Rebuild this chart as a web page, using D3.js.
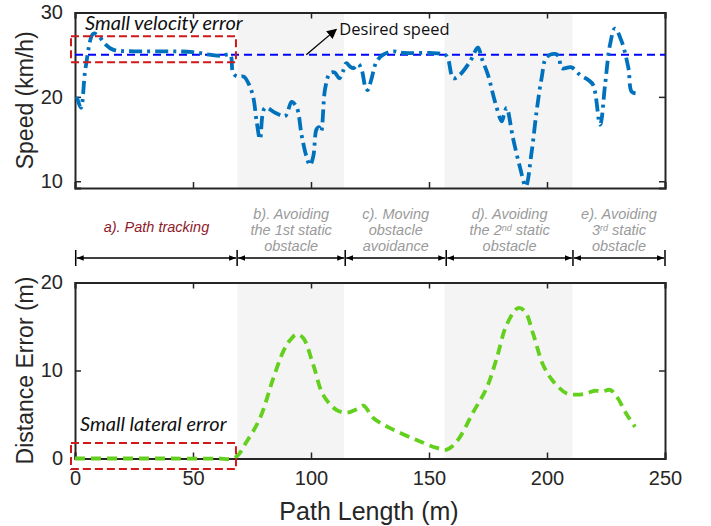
<!DOCTYPE html>
<html>
<head>
<meta charset="utf-8">
<script src="https://cdn.jsdelivr.net/npm/d3@7"></script>
<style>
  body { margin: 0; background: #fff; }
  text { font-family: 'Liberation Sans', Arial, sans-serif; }
  .note { font-family: Lato, 'Open Sans', sans-serif; font-style: italic; }
  .phase { font-family: 'Liberation Sans', Arial, sans-serif; font-style: italic; }
</style>
</head>
<body>
<div class="container"></div>
<script>
const speedX = [0.8, 2.5, 4.5, 7.8, 10, 13, 16, 25, 40, 50, 57, 62, 65.7, 67, 69, 71.5, 73.5, 75.5, 77, 78.4, 80.5, 85, 89, 91.8, 94, 96, 98, 99.6, 101, 102.4, 103.5, 104.3, 106, 108, 110, 112, 113.5, 115, 116.5, 118, 120, 121.5, 123, 124, 125.5, 127.8, 130.6, 134.8, 139, 150, 156.8, 158, 160.3, 163, 167.4, 170.8, 172.3, 175, 178, 180.8, 181.8, 182.9, 185.6, 188.6, 191, 193.5, 195.6, 197.7, 199.8, 203.4, 205, 206.2, 210.4, 214, 217.5, 219.6, 222.5, 224.6, 226.7, 228.8, 231.6, 234.5, 235.9, 238];
const speedY = [20.0, 18.7, 23.5, 27.5, 27.2, 26.2, 25.6, 25.4, 25.4, 25.3, 25.0, 24.85, 25.0, 22.8, 22.4, 22.4, 21.6, 20.0, 17.0, 15.0, 18.7, 18.1, 17.7, 19.4, 18.7, 15.5, 13.0, 11.9, 13.0, 16.2, 16.4, 15.9, 21.0, 22.8, 22.9, 22.2, 23.0, 24.0, 23.6, 23.4, 23.9, 23.2, 21.2, 20.8, 22.0, 24.2, 25.0, 25.4, 25.2, 25.2, 25.0, 24.6, 22.2, 22.6, 24.2, 25.85, 24.6, 22.6, 19.4, 17.1, 17.9, 18.7, 15.1, 11.6, 9.4, 13.5, 18.3, 22.2, 24.7, 25.1, 24.8, 23.4, 23.5, 22.6, 22.0, 21.4, 16.7, 21.4, 26.2, 28.1, 26.6, 23.4, 20.6, 20.4];

const errorX = [0, 20, 40, 60, 67.8, 72.7, 78.4, 84, 88.3, 91, 93.9, 96.7, 101, 105.2, 110.9, 115.1, 119.4, 122.2, 126.4, 133.5, 144.8, 153.3, 157.5, 161.7, 168.8, 174.4, 178.7, 182.9, 187.8, 190.7, 194.2, 198.4, 202.7, 208.3, 212.6, 216.8, 220.3, 223.2, 226.7, 229.5, 233.8, 237.3];
const errorY = [0, 0, 0, 0, 0.1, 1.9, 4.6, 9.1, 12.2, 13.4, 14.1, 13.7, 10.6, 7.2, 5.5, 5.2, 5.6, 6.0, 4.6, 3.45, 2.1, 1.2, 1.0, 1.9, 5.3, 8.0, 11.4, 15.2, 17.1, 16.7, 14.1, 10.6, 8.75, 7.4, 7.25, 7.4, 7.7, 7.6, 7.8, 7.05, 5.0, 3.6];

const desiredSpeed = 25;
const xTicks = [0, 50, 100, 150, 200, 250];
const speedTicks = [10, 20, 30];
const errorTicks = [0, 10, 20];
const shadedStart = [68.8, 156.6];
const shadedEnd = [114, 210.8];
const phaseBounds = [0.3, 68.7, 114.5, 157.3, 211, 250];
const phaseLabels = [
  ['a). Path tracking'],
  ['b). Avoiding', 'the 1st static', 'obstacle'],
  ['c). Moving', 'obstacle', 'avoidance'],
  ['d). Avoiding', ['the 2', 'nd', ' static'], 'obstacle'],
  ['e). Avoiding', ['3', 'rd', ' static'], 'obstacle']
];
const speedBox = [-1.7, 68.2, 24.1, 27.2];
const errorBox = [-1.7, 68.2, -1.2, 1.75];

const width = 711;
const height = 526;

const svg = d3.select('.container').append('svg').attr('width', width).attr('height', height);

const xScale = d3.scaleLinear().domain([0, 250]).range([75, 665]);
const ySpeed = d3.scaleLinear().domain([9.2, 30]).range([188, 12.5]);
const yError = d3.scaleLinear().domain([0, 20]).range([458.5, 282.5]);

const drawPanel = (yScale, ticks, showX) => {
  const [y0, y1] = yScale.range();
  const panel = svg.append('g');

  shadedStart.forEach((s, i) => {
    panel
      .append('rect')
      .attr('x', xScale(s))
      .attr('y', y1)
      .attr('width', xScale(shadedEnd[i]) - xScale(s))
      .attr('height', y0 - y1)
      .attr('fill', '#f4f4f4');
  });

  const bottomAxis = d3.axisBottom(xScale).tickValues(xTicks).tickSize(-6).tickPadding(12);
  if (!showX) bottomAxis.tickFormat('');
  const topAxis = d3.axisTop(xScale).tickValues(xTicks).tickSize(-6).tickFormat('');
  const leftAxis = d3.axisLeft(yScale).tickValues(ticks).tickSize(-6).tickPadding(12);
  const rightAxis = d3.axisRight(yScale).tickValues(ticks).tickSize(-6).tickFormat('');

  const axes = panel.append('g').attr('class', 'axes');
  axes.append('g').attr('transform', `translate(0,${y0})`).call(bottomAxis);
  axes.append('g').attr('transform', `translate(0,${y1})`).call(topAxis);
  axes.append('g').attr('transform', `translate(${xScale(0)},0)`).call(leftAxis);
  axes.append('g').attr('transform', `translate(${xScale(250)},0)`).call(rightAxis);

  axes.selectAll('.domain').attr('stroke', '#262626').attr('stroke-width', 2);
  axes.selectAll('.tick line').attr('stroke', '#262626').attr('stroke-width', 1.5);
  axes.selectAll('.tick text').attr('fill', '#262626').style('font-size', '20px');
  return panel;
};

const topPanel = drawPanel(ySpeed, speedTicks, false);
const bottomPanel = drawPanel(yError, errorTicks, true);

// desired speed reference
topPanel
  .append('line')
  .attr('x1', xScale(0))
  .attr('x2', xScale(250))
  .attr('y1', ySpeed(desiredSpeed))
  .attr('y2', ySpeed(desiredSpeed))
  .attr('stroke', '#0000ff')
  .attr('stroke-width', 2)
  .attr('stroke-dasharray', '8,5');

const speedLine = d3
  .line()
  .x((d, i) => xScale(speedX[i]))
  .y(d => ySpeed(d))
  .curve(d3.curveCatmullRom);

topPanel
  .append('path')
  .attr('d', speedLine(speedY))
  .attr('fill', 'none')
  .attr('stroke', '#0072bd')
  .attr('stroke-width', 3.8)
  .attr('stroke-dasharray', '13,5,3,5');

const errorLine = d3
  .line()
  .x((d, i) => xScale(errorX[i]))
  .y(d => yError(d))
  .curve(d3.curveCatmullRom);

bottomPanel
  .append('path')
  .attr('d', errorLine(errorY))
  .attr('fill', 'none')
  .attr('stroke', '#62d01c')
  .attr('stroke-width', 3.8)
  .attr('stroke-dasharray', '10,6');

const drawBox = (panel, yScale, box) => {
  panel
    .append('rect')
    .attr('x', xScale(box[0]))
    .attr('y', yScale(box[3]))
    .attr('width', xScale(box[1]) - xScale(box[0]))
    .attr('height', yScale(box[2]) - yScale(box[3]))
    .attr('fill', 'none')
    .attr('stroke', '#d01818')
    .attr('stroke-width', 2)
    .attr('stroke-dasharray', '8,4');
};
drawBox(topPanel, ySpeed, speedBox);
drawBox(bottomPanel, yError, errorBox);

svg
  .append('text')
  .attr('class', 'note')
  .attr('x', 85)
  .attr('y', 30)
  .style('font-size', '20px')
  .attr('fill', '#111')
  .text('Small velocity error');

svg
  .append('text')
  .attr('class', 'note')
  .attr('x', 80)
  .attr('y', 431)
  .style('font-size', '20px')
  .attr('fill', '#111')
  .text('Small lateral error');

// arrow to the desired speed line
svg
  .append('defs')
  .append('marker')
  .attr('id', 'head')
  .attr('viewBox', '0 0 10 10')
  .attr('refX', 9)
  .attr('refY', 5)
  .attr('markerWidth', 10)
  .attr('markerHeight', 10)
  .attr('markerUnits', 'userSpaceOnUse')
  .attr('orient', 'auto')
  .append('path')
  .attr('d', 'M0,0L10,5L0,10z')
  .attr('fill', '#000');

svg
  .append('line')
  .attr('x1', xScale(98))
  .attr('y1', ySpeed(desiredSpeed))
  .attr('x2', xScale(110.7))
  .attr('y2', ySpeed(28))
  .attr('stroke', '#000')
  .attr('stroke-width', 1.3)
  .attr('marker-end', 'url(#head)');

svg
  .append('text')
  .attr('x', xScale(112))
  .attr('y', 35)
  .style('font-family', "'Open Sans', sans-serif")
  .style('font-size', '16.5px')
  .attr('fill', '#111')
  .text('Desired speed');

// phase annotations between the panels
const phases = svg.append('g').attr('class', 'phases');
const arrowY = 258;

phaseBounds.forEach(b => {
  phases
    .append('line')
    .attr('x1', xScale(b))
    .attr('x2', xScale(b))
    .attr('y1', arrowY - 8)
    .attr('y2', arrowY + 8)
    .attr('stroke', '#000')
    .attr('stroke-width', 1.5);
});

phases
  .append('defs')
  .append('marker')
  .attr('id', 'tip')
  .attr('viewBox', '0 0 10 10')
  .attr('refX', 10)
  .attr('refY', 5)
  .attr('markerWidth', 7)
  .attr('markerHeight', 7)
  .attr('markerUnits', 'userSpaceOnUse')
  .attr('orient', 'auto-start-reverse')
  .append('path')
  .attr('d', 'M0,1L10,5L0,9z')
  .attr('fill', '#000');

phaseLabels.forEach((lines, i) => {
  const a = xScale(phaseBounds[i]);
  const b = xScale(phaseBounds[i + 1]);
  phases
    .append('line')
    .attr('x1', a + 1)
    .attr('x2', b - 1)
    .attr('y1', arrowY)
    .attr('y2', arrowY)
    .attr('stroke', '#000')
    .attr('stroke-width', 1.3)
    .attr('marker-start', 'url(#tip)')
    .attr('marker-end', 'url(#tip)');

  const firstY = lines.length === 1 ? 232 : 219;
  lines.forEach((line, j) => {
    const row = phases
      .append('text')
      .attr('class', 'phase')
      .attr('text-anchor', 'middle')
      .attr('fill', i === 0 ? '#8e1b2c' : '#9a9a9a')
      .style('font-size', '14.5px')
      .attr('x', (a + b) / 2)
      .attr('y', firstY + j * 16.2);
    if (Array.isArray(line)) {
      row.append('tspan').text(line[0]);
      row.append('tspan').attr('dy', -4).style('font-size', '9px').text(line[1]);
      row.append('tspan').attr('dy', 4).text(line[2]);
    } else {
      row.text(line);
    }
  });
});

svg
  .append('text')
  .text('Speed (km/h)')
  .attr('transform', `translate(33,${(ySpeed.range()[0] + ySpeed.range()[1]) / 2}) rotate(-90)`)
  .attr('text-anchor', 'middle')
  .attr('fill', '#262626')
  .style('font-size', '23px');

svg
  .append('text')
  .text('Distance Error (m)')
  .attr('transform', `translate(33,${(yError.range()[0] + yError.range()[1]) / 2}) rotate(-90)`)
  .attr('text-anchor', 'middle')
  .attr('fill', '#262626')
  .style('font-size', '23px');

svg
  .append('text')
  .text('Path Length (m)')
  .attr('x', 369)
  .attr('y', 520)
  .attr('text-anchor', 'middle')
  .attr('fill', '#262626')
  .style('font-size', '25px');
</script>
</body>
</html>
